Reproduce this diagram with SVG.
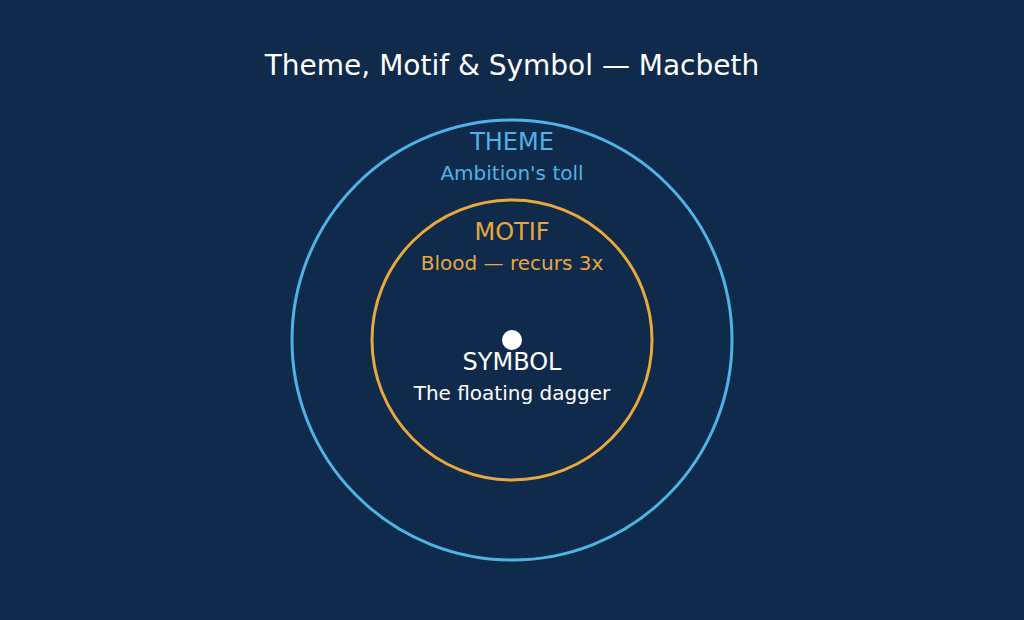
<svg xmlns="http://www.w3.org/2000/svg" width="1024" height="620" viewBox="0 0 1024 620">
<style>
text{font-family:"DejaVu Sans",sans-serif;text-anchor:middle}
.t{font-size:28px;fill:#ffffff}
.h{font-size:24px}
.s{font-size:20px}
.blue{fill:#4fb3e6}
.orange{fill:#e8a83e}
.white{fill:#ffffff}
.ring{fill:none;stroke-width:3}
</style>
<rect width="1024" height="620" fill="#0f2a4a"/>
<text class="t" x="512" y="75">Theme, Motif &amp; Symbol — Macbeth</text>
<g id="theme">
<circle class="ring" cx="512" cy="340" r="220" stroke="#4fb3e6"/>
<text class="h blue" x="512" y="150">THEME</text>
<text class="s blue" x="512" y="180">Ambition's toll</text>
</g>
<g id="motif">
<circle class="ring" cx="512" cy="340" r="140" stroke="#e8a83e"/>
<text class="h orange" x="512" y="240">MOTIF</text>
<text class="s orange" x="512" y="270">Blood — recurs 3x</text>
</g>
<g id="symbol">
<circle cx="512" cy="340" r="10" fill="#ffffff"/>
<text class="h white" x="512" y="370">SYMBOL</text>
<text class="s white" x="512" y="400">The floating dagger</text>
</g>
<g id="connectors"></g>
</svg>
